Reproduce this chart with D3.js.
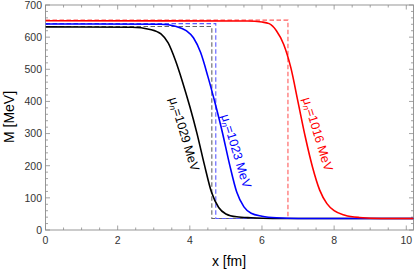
<!DOCTYPE html>
<html><head><meta charset="utf-8">
<script src="https://cdn.jsdelivr.net/npm/d3@7"></script>
<style>body{margin:0;background:#fff}svg{display:block}text{font-family:"Liberation Sans",Arial,sans-serif}</style>
</head><body><svg id="c" width="415" height="271"></svg>
<script>
// Data
const blackX = [0, 2.4, 2.9, 3.2, 3.4, 3.6, 3.8, 4.0, 4.2, 4.4, 4.6, 4.8, 5.0, 5.3, 5.7, 6.3, 10.2];
const blackM = [632, 631, 624, 610, 582, 528, 460, 384, 300, 205, 118, 70, 50, 41, 38, 36, 36];
const blueX  = [0, 3.2, 3.6, 3.9, 4.1, 4.3, 4.5, 4.7, 4.9, 5.1, 5.3, 5.5, 5.7, 6.0, 6.4, 7.0, 10.2];
const blueM  = [641, 640, 634, 620, 598, 552, 478, 395, 305, 205, 118, 72, 52, 43, 38, 36, 36];
const redX   = [0, 5.6, 6.0, 6.2, 6.4, 6.6, 6.8, 7.0, 7.2, 7.4, 7.6, 7.8, 8.0, 8.3, 8.7, 9.3, 10.2];
const redM   = [651, 650, 647, 642, 620, 578, 505, 398, 290, 196, 124, 82, 60, 46, 39, 36, 36];
// step (dashed) approximations: [wall position, inner value, outer value]
const stepWall  = [4.61, 4.72, 6.72];
const stepInner = [633, 642, 653];
const stepOuter = [36, 36, 36];
const labels = ["1029", "1023", "1016"];
const xTicks = [0, 2, 4, 6, 8, 10];
const yTicks = [0, 100, 200, 300, 400, 500, 600, 700];

const svg = d3.select("#c");
const L = 45.5, R = 413.5, T = 5, B = 230;
const x = d3.scaleLinear().domain([0, 10.2]).range([L, R]);
const y = d3.scaleLinear().domain([0, 700]).range([B, T]);
const frameC = "#8c8c8c";

svg.append("defs").append("clipPath").attr("id", "clip")
  .append("rect").attr("x", L).attr("y", T).attr("width", R - L).attr("height", B - T);

// ticks on all four sides (inward)
const xMinor = d3.range(0, 10.21, 0.5);
const yMinor = d3.range(0, 701, 20);
const g = svg.append("g");
xMinor.forEach(v => {
  const major = Math.abs(v / 2 - Math.round(v / 2)) < 1e-6;
  const len = major ? 4.5 : 2.5;
  g.append("line").attr("x1", x(v)).attr("x2", x(v)).attr("y1", B).attr("y2", B - len).attr("stroke", frameC).attr("stroke-width", 0.8);
  g.append("line").attr("x1", x(v)).attr("x2", x(v)).attr("y1", T).attr("y2", T + len).attr("stroke", frameC).attr("stroke-width", 0.8);
});
yMinor.forEach(v => {
  const major = v % 100 === 0;
  const len = major ? 4.5 : 2.5;
  g.append("line").attr("x1", L).attr("x2", L + len).attr("y1", y(v)).attr("y2", y(v)).attr("stroke", frameC).attr("stroke-width", 0.8);
  g.append("line").attr("x1", R).attr("x2", R - len).attr("y1", y(v)).attr("y2", y(v)).attr("stroke", frameC).attr("stroke-width", 0.8);
});
svg.append("rect").attr("x", L).attr("y", T).attr("width", R - L).attr("height", B - T)
  .attr("fill", "none").attr("stroke", frameC).attr("stroke-width", 0.9);

// tick labels
xTicks.forEach(v => svg.append("text").attr("x", x(v)).attr("y", 244).attr("text-anchor", "middle")
  .attr("font-size", 10.5).attr("fill", "#333").text(v));
yTicks.forEach(v => svg.append("text").attr("x", 42).attr("y", y(v) + 3.8).attr("text-anchor", "end")
  .attr("font-size", 10.5).attr("fill", "#333").text(v));

// axis titles
svg.append("text").attr("x", 229).attr("y", 266).attr("text-anchor", "middle").attr("font-size", 14).text("x [fm]");
svg.append("text").attr("transform", "translate(14,117) rotate(-90)").attr("text-anchor", "middle")
  .attr("font-size", 14).text("M [MeV]");

const plot = svg.append("g").attr("clip-path", "url(#clip)");
const dashCol = ["#666666", "#5a5aff", "#ff5a5a"];
const solidCol = ["#000000", "#0000ff", "#ff0000"];
const lineGen = d3.line().x(d => x(d[0])).y(d => y(d[1])).curve(d3.curveMonotoneX);

// dashed step lines
stepWall.forEach((w, i) => {
  const pts = [[0, stepInner[i]], [w, stepInner[i]], [w, stepOuter[i]], [10.2, stepOuter[i]]];
  plot.append("path").attr("d", d3.line().x(d => x(d[0])).y(d => y(d[1]))(pts))
    .attr("fill", "none").attr("stroke", dashCol[i]).attr("stroke-width", 1.1).attr("stroke-dasharray", "4.5,2.5");
});

// solid curves
const series = [[blackX, blackM], [blueX, blueM], [redX, redM]];
series.forEach((s, i) => {
  const pts = s[0].map((v, j) => [v, s[1][j]]);
  plot.append("path").attr("d", lineGen(pts)).attr("fill", "none")
    .attr("stroke", solidCol[i]).attr("stroke-width", 1.6);
});

// rotated labels
const labPos = [[184, 134], [236, 151], [317.5, 134]];
labels.forEach((t, i) => {
  const tx = svg.append("text").attr("transform", `translate(${labPos[i][0]},${labPos[i][1]}) rotate(73)`)
    .attr("text-anchor", "middle").attr("dominant-baseline", "central").attr("font-size", 12.5).attr("fill", solidCol[i]);
  tx.append("tspan").text("μ");
  tx.append("tspan").attr("font-size", 8.5).attr("font-style", "italic").attr("dy", 3).text("n");
  tx.append("tspan").attr("dy", -3).text("=" + t + " MeV");
});
</script></body></html>
